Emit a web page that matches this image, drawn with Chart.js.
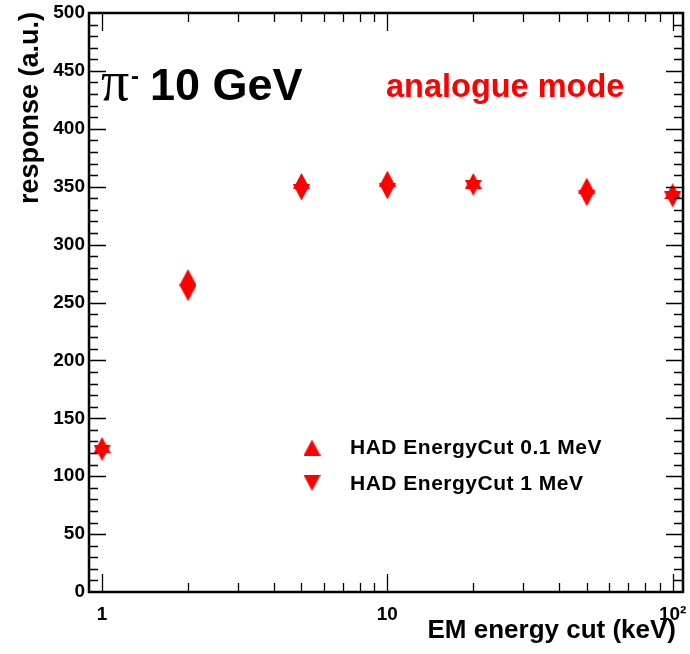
<!DOCTYPE html>
<html>
<head>
<meta charset="utf-8">
<script src="https://cdn.jsdelivr.net/npm/chart.js@4.4.1/dist/chart.umd.min.js"></script>
<style>
  html, body { margin: 0; padding: 0; background: #fff; }
</style>
</head>
<body>
<canvas id="respChart" width="690" height="654"></canvas>
<script>
let emCuts = [1, 2, 5, 10, 20, 50, 100];
let respHad01 = [127, 272, 355, 357, 355, 351, 346];
let respHad1 = [120, 258, 345, 346, 349, 340, 339];
let seriesNames = ["HAD EnergyCut 0.1 MeV", "HAD EnergyCut 1 MeV"];
let xTickValues = [1, 10, 100];
let xTickText = ["1", "10", "10\u00B2"];
let markerColor = "#ff0000";
let sans = "'Liberation Sans', Arial, Helvetica, sans-serif";

// ROOT-like full triangles, centred on their bounding box
function triangle(up) {
    let c = document.createElement("canvas");
    c.width = 17;
    c.height = 16;
    let g = c.getContext("2d");
    g.fillStyle = markerColor;
    g.beginPath();
    if (up) {
        g.moveTo(0, 16); g.lineTo(17, 16); g.lineTo(8.5, 0);
    } else {
        g.moveTo(0, 0); g.lineTo(17, 0); g.lineTo(8.5, 16);
    }
    g.closePath();
    g.fill();
    return c;
}
let upMarker = triangle(true);
let downMarker = triangle(false);

// frame with inward ticks on all four sides
const frameTicks = {
    id: "frameTicks",
    afterDraw(chart) {
        let ctx = chart.ctx, a = chart.chartArea;
        let xs = chart.scales.x, ys = chart.scales.y;
        ctx.save();
        ctx.strokeStyle = "#000";
        ctx.lineWidth = 1.3;
        ctx.beginPath();
        for (let v = 10; v < 500; v += 10) {
            let py = Math.round(ys.getPixelForValue(v)) + 0.5;
            let len = v % 50 === 0 ? 17 : 9;
            ctx.moveTo(a.left, py); ctx.lineTo(a.left + len, py);
            ctx.moveTo(a.right, py); ctx.lineTo(a.right - len, py);
        }
        for (let d = 1; d <= 100; d *= 10) {
            for (let m = 1; m <= 9; m++) {
                let v = d * m;
                if (v < xs.min || v > xs.max) continue;
                let px = Math.round(xs.getPixelForValue(v)) + 0.5;
                let len = m === 1 ? 18 : 9;
                ctx.moveTo(px, a.bottom); ctx.lineTo(px, a.bottom - len);
                ctx.moveTo(px, a.top); ctx.lineTo(px, a.top + len);
            }
        }
        ctx.stroke();
        ctx.lineWidth = 2.5;
        ctx.strokeRect(a.left, a.top, a.right - a.left, a.bottom - a.top);
        ctx.restore();
    }
};

// titles, labels and legend
const annotations = {
    id: "annotations",
    afterDraw(chart) {
        let ctx = chart.ctx;
        ctx.save();
        ctx.fillStyle = "#000";
        ctx.textBaseline = "alphabetic";

        ctx.font = "bold 26px " + sans;
        ctx.textAlign = "right";
        ctx.fillText("EM energy cut (keV)", 676, 638);

        ctx.save();
        ctx.font = "bold 27px " + sans;
        ctx.translate(38, 12);
        ctx.rotate(-Math.PI / 2);
        ctx.fillText("response (a.u.)", 0, 0);
        ctx.restore();

        ctx.textAlign = "left";
        ctx.font = "56px 'Liberation Serif', 'DejaVu Serif', serif";
        ctx.fillText("\u03C0", 101, 100);
        ctx.font = "bold 24px " + sans;
        ctx.fillText("-", 131, 84);
        ctx.font = "bold 45px " + sans;
        ctx.fillText("10 GeV", 150, 100);

        ctx.fillStyle = markerColor;
        ctx.font = "bold 32.5px " + sans;
        ctx.fillText("analogue mode", 386, 97);

        let marks = [upMarker, downMarker];
        let rows = [447.5, 483];
        ctx.fillStyle = "#000";
        ctx.font = "bold 21px " + sans;
        ctx.letterSpacing = "0.5px";
        ctx.textBaseline = "middle";
        for (let i = 0; i < seriesNames.length; i++) {
            let m = marks[i];
            ctx.drawImage(m, 312 - m.width / 2, rows[i] - m.height / 2);
            ctx.fillText(seriesNames[i], 350, rows[i] + 1);
        }
        ctx.restore();
    }
};

new Chart("respChart", {
    type: "scatter",
    data: {
        datasets: [{
            label: seriesNames[0],
            data: emCuts.map((x, i) => ({ x: x, y: respHad01[i] })),
            pointStyle: upMarker,
            backgroundColor: markerColor,
            borderColor: markerColor
        }, {
            label: seriesNames[1],
            data: emCuts.map((x, i) => ({ x: x, y: respHad1[i] })),
            pointStyle: downMarker,
            backgroundColor: markerColor,
            borderColor: markerColor
        }]
    },
    options: {
        responsive: false,
        animation: false,
        layout: { padding: { left: 0, right: 7, top: 13, bottom: 0 } },
        plugins: {
            legend: { display: false },
            tooltip: { enabled: false }
        },
        scales: {
            x: {
                type: "logarithmic",
                min: 0.9,
                max: 108.7,
                grid: { display: false, drawTicks: false },
                border: { display: false },
                afterBuildTicks: (scale) => {
                    scale.ticks = xTickValues.map(v => ({ value: v }));
                },
                afterFit: (scale) => {
                    scale.height = 62;
                    scale.paddingLeft = 0;
                    scale.paddingRight = 0;
                },
                ticks: {
                    autoSkip: false,
                    maxRotation: 0,
                    padding: 11,
                    color: "#000",
                    font: { family: sans, size: 19, weight: "bold" },
                    callback: (value) => xTickText[xTickValues.indexOf(value)]
                }
            },
            y: {
                min: 0,
                max: 500,
                grid: { display: false, drawTicks: false },
                border: { display: false },
                afterFit: (scale) => {
                    scale.width = 89;
                    scale.paddingTop = 0;
                    scale.paddingBottom = 0;
                },
                ticks: {
                    stepSize: 50,
                    padding: 4,
                    color: "#000",
                    font: { family: sans, size: 19, weight: "bold" }
                }
            }
        }
    },
    plugins: [frameTicks, annotations]
});
</script>
</body>
</html>
